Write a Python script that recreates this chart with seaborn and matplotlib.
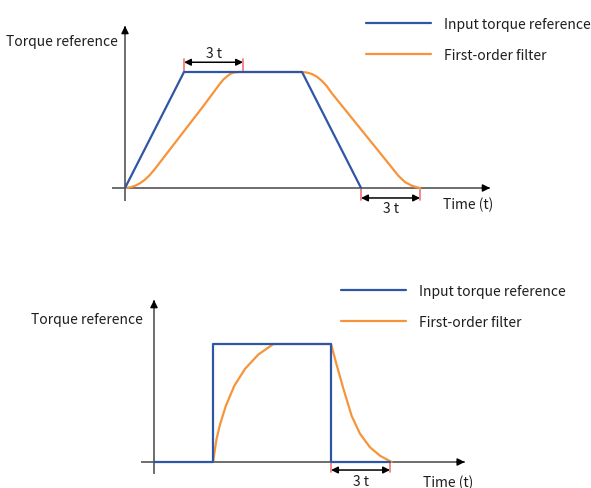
import matplotlib
matplotlib.use("Agg")
import matplotlib.pyplot as plt
import pandas as pd
import seaborn as sns

# Trapezoidal (ramp) torque command and its first-order filtered response
ramp_time_input = [0, 3, 9, 12]
ramp_torque_input = [0, 1, 1, 0]
ramp_time_filtered = [0.0, 0.25, 0.5, 0.75, 1.0, 1.25, 1.5, 2.0, 3.0, 4.0, 4.83, 5.0,
                      5.17, 5.35, 5.51, 5.75, 6.0, 9.0, 9.25, 9.5, 9.75, 10.0, 10.25,
                      10.5, 11.5, 12.5, 13.5, 13.9, 14.24, 14.58, 14.8, 15.0]
ramp_torque_filtered = [0.0, 0.005, 0.018, 0.04, 0.07, 0.11, 0.16, 0.27, 0.49, 0.71, 0.90,
                        0.935, 0.96, 0.983, 0.995, 1.0, 1.0, 1.0, 0.995, 0.983, 0.96, 0.925,
                        0.88, 0.82, 0.61, 0.40, 0.19, 0.105, 0.05, 0.02, 0.008, 0.0]

# Step torque command and its first-order filtered response
step_time_input = [0, 3, 3, 9, 9, 12]
step_torque_input = [0, 0, 1, 1, 0, 0]
step_time_filtered = [3.0, 3.18, 3.36, 3.65, 4.08, 4.63, 5.30, 6.07, 9.0,
                      9.29, 9.63, 10.05, 10.47, 10.98, 11.49, 12.08]
step_torque_filtered = [0.0, 0.195, 0.32, 0.475, 0.645, 0.79, 0.91, 1.0, 1.0,
                        0.82, 0.62, 0.39, 0.24, 0.125, 0.053, 0.0]

series_names = ["Input torque reference", "First-order filter"]
series_colors = ["#2f56a6", "#f7943a"]
tau = 1.0
y_label = "Torque reference"
x_label = "Time (t)"
span_label = "3 t"

W, H = 591, 489
sns.set_theme(style="white")
plt.rcParams["font.family"] = ["Noto Sans CJK SC", "DejaVu Sans"]
fig = plt.figure(figsize=(W / 100, H / 100), dpi=100)

AXIS_GRAY = "#6e6e6e"
MARK_RED = "#ef7676"
TEXT = "#1e1e1e"
FS = 10


def panel(origin_px, px_per_t, px_per_v):
    ax = fig.add_axes([0, 0, 1, 1])
    x0, y0 = origin_px
    ax.set_xlim(-x0 / px_per_t, (W - x0) / px_per_t)
    ax.set_ylim((y0 - H) / px_per_v, y0 / px_per_v)
    ax.set_axis_off()
    ax.patch.set_alpha(0)
    return ax


def frame(ax, x_from, x_to, y_from, y_to):
    # gray axis lines with black arrow heads
    ax.plot([x_from, x_to], [0, 0], color=AXIS_GRAY, lw=1.4, zorder=1, solid_capstyle="butt")
    ax.plot([0, 0], [y_from, y_to], color=AXIS_GRAY, lw=1.4, zorder=1, solid_capstyle="butt")
    ax.annotate("", xy=(x_to, 0), xytext=(x_to - 0.4, 0),
                arrowprops=dict(arrowstyle="-|>", color="black", lw=1, mutation_scale=11,
                                shrinkA=0, shrinkB=0), zorder=5)
    ax.annotate("", xy=(0, y_to), xytext=(0, y_to - 0.06),
                arrowprops=dict(arrowstyle="-|>", color="black", lw=1, mutation_scale=11,
                                shrinkA=0, shrinkB=0), zorder=5)


def span(ax, t_start, level, tick_to, arrow_at, text_at):
    t_end = t_start + 3 * tau
    for t in (t_start, t_end):
        ax.plot([t, t], [level, tick_to], color=MARK_RED, lw=1.2, zorder=2)
    ax.annotate("", xy=(t_end, arrow_at), xytext=(t_start, arrow_at),
                arrowprops=dict(arrowstyle="<|-|>", color="black", lw=1.1, mutation_scale=10,
                                shrinkA=0, shrinkB=0), zorder=5)
    ax.text((t_start + t_end) / 2, text_at, span_label, ha="center", va="center",
            fontsize=FS, color=TEXT)


def curves(ax, t_in, v_in, t_f, v_f, legend_px):
    df = pd.concat([
        pd.DataFrame({"time": t_in, "torque": v_in, "series": series_names[0]}),
        pd.DataFrame({"time": t_f, "torque": v_f, "series": series_names[1]}),
    ], ignore_index=True)
    n_before = len(ax.lines)
    sns.lineplot(data=df, x="time", y="torque", hue="series", hue_order=series_names,
                 palette=series_colors, sort=False, estimator=None, lw=1.6, ax=ax)
    # command line on top of the filtered response
    new_lines = ax.lines[n_before:]
    for line in new_lines:
        is_input = matplotlib.colors.same_color(line.get_color(), series_colors[0])
        line.set_zorder(4 if is_input else 3)
    ax.set_axis_off()
    handles, labels = ax.get_legend_handles_labels()
    ax.legend(handles, labels, loc="upper left", frameon=False,
              bbox_to_anchor=(legend_px[0] / W, 1 - legend_px[1] / H),
              bbox_transform=fig.transFigure, borderaxespad=0, borderpad=0,
              handlelength=4.7, handletextpad=0.95, labelspacing=1.2,
              fontsize=FS, labelcolor=TEXT)


# ---- upper panel: ramp command ----
px_t = 19.67
top = panel((125, 189), px_t, 116)
frame(top, -0.66, 18.56, -0.112, 1.397)
curves(top, ramp_time_input, ramp_torque_input, ramp_time_filtered, ramp_torque_filtered,
       (366, 18))
span(top, ramp_time_input[1], 1.0, 1.112, 1.084, 1.16)
span(top, ramp_time_input[-1], 0.0, -0.103, -0.086, -0.17)
top.text(-0.35, 1.265, y_label, ha="right", va="center", fontsize=FS, color=TEXT)
top.text(17.44, -0.135, x_label, ha="center", va="center", fontsize=FS, color=TEXT)

# ---- lower panel: step command ----
bot = panel((154, 463), px_t, 118)
frame(bot, -0.66, 15.8, -0.10, 1.373)
curves(bot, step_time_input, step_torque_input, step_time_filtered, step_torque_filtered,
       (341, 285))
span(bot, step_time_input[-2], 0.0, -0.085, -0.068, -0.165)
bot.text(-0.55, 1.21, y_label, ha="right", va="center", fontsize=FS, color=TEXT)
bot.text(14.95, -0.165, x_label, ha="center", va="center", fontsize=FS, color=TEXT)

fig.savefig("out.png", dpi=100, facecolor="white")
